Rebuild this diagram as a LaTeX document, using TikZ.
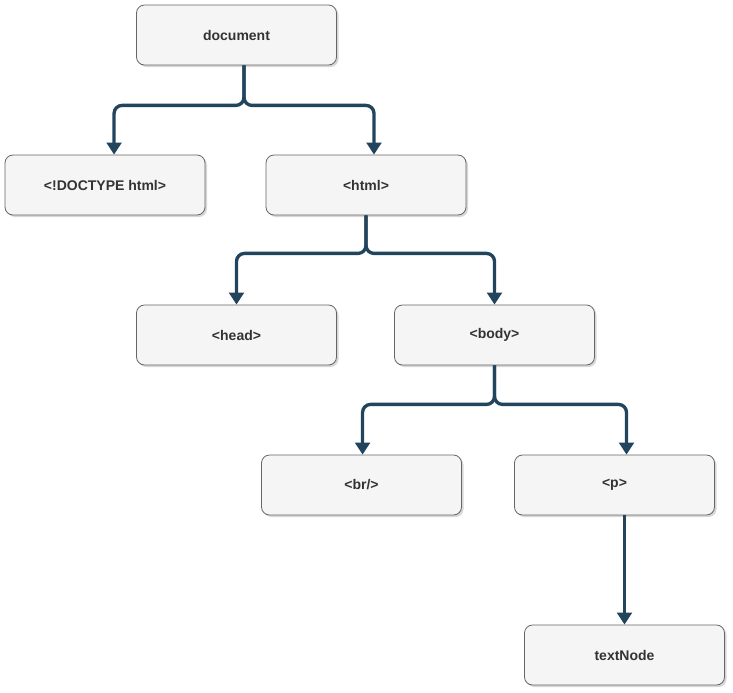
\documentclass[tikz,border=0pt]{standalone}
\usepackage{fontspec}
\setmainfont{Liberation Sans}
\usepackage{xcolor}
\definecolor{boxfill}{HTML}{F5F5F5}
\definecolor{boxline}{HTML}{666666}
\definecolor{txt}{HTML}{333333}
\definecolor{linkblue}{HTML}{23445D}
\usepackage{tikz}
\usetikzlibrary{arrows.meta, shadows}
\tikzset{
    tag/.style = {rectangle, rounded corners=6pt, draw=boxline, fill=boxfill,
                  line width=0.6pt, minimum width=150pt, minimum height=45pt,
                  font=\fontsize{10.5}{12}\selectfont\bfseries, text=txt,
                  drop shadow={shadow xshift=1.5pt, shadow yshift=-1.5pt,
                               opacity=0.35, fill=black!45}},
    branch/.style = {-{Triangle[length=9pt, width=11pt]}, line width=2.5pt,
                     color=linkblue, rounded corners=6pt},
}

\begin{document}
\begin{tikzpicture}[x=0.75pt, y=-0.75pt]
        \useasboundingbox (0,0) rectangle (733,693);
        \node[tag] (doc) at (236.5,35) {document};
        \node[tag] (doctype) at (105,185) {<!DOCTYPE html>};
        \node[tag] (html) at (366,185) {<html>};
        \node[tag] (head) at (236.5,335) {<head>};
        \node[tag] (body) at (494.5,335) {<body>};
        \node[tag] (br) at (361.5,485) {<br/>};
        \node[tag] (p) at (614.5,485) {<p>};
        \node[tag] (text) at (624.5,655) {textNode};
        \draw[branch] ([xshift=5.6pt]doc.south) -- ++(0,40) -| ([xshift=6.8pt]doctype.north);
        \draw[branch] ([xshift=5.6pt]doc.south) -- ++(0,40) -| ([xshift=6pt]html.north);
        \draw[branch] (html.south) -- ++(0,38) -| (head.north);
        \draw[branch] (html.south) -- ++(0,38) -| (body.north);
        \draw[branch] (body.south) -- ++(0,39) -| ([xshift=0.8pt]br.north);
        \draw[branch] (body.south) -- ++(0,39) -| ([xshift=9pt]p.north);
        \draw[branch] ([xshift=7.5pt]p.south) -- (text.north);
      \end{tikzpicture}
\end{document}
